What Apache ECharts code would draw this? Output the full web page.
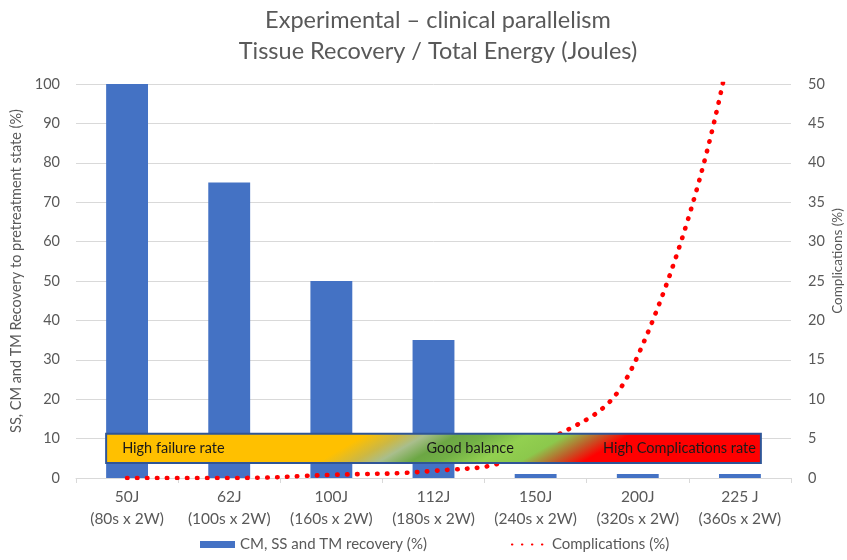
<!DOCTYPE html>
<html><head><meta charset="utf-8">
<script src="https://cdn.jsdelivr.net/npm/echarts@6/dist/echarts.min.js"></script>
<style>html,body{margin:0;padding:0;background:#fff}#c{width:847px;height:560px}</style>
</head><body><div id="c"></div>
<script>
// ---- data ----
const categories = ['50J\n(80s x 2W)', '62J\n(100s x 2W)', '100J\n(160s x 2W)', '112J\n(180s x 2W)', '150J\n(240s x 2W)', '200J\n(320s x 2W)', '225 J\n(360s x 2W)'];
const recovery = [100, 75, 50, 35, 1, 1, 1];
const complications = [0, 0, 0.4, 0.9, 4, 15.5, 62];
const leftAxisTicks = [0, 100, 10];   // min, max, interval
const rightAxisTicks = [0, 50, 5];
const seriesNames = ['CM, SS and TM recovery (%)', 'Complications (%)'];
const bandRange = [3.8, 11.2];        // left-axis values of the zone band
const bandLabels = ['High failure rate', 'Good balance', 'High Complications rate'];

const FONT = 'Lato';
const GREY = '#595959';
const chart = echarts.init(document.getElementById('c'), null, {renderer: 'canvas'});

const option = {
  backgroundColor: '#fff',
  textStyle: {fontFamily: FONT},
  title: {
    text: 'Experimental \u2013 clinical parallelism\nTissue Recovery / Total Energy (Joules)',
    left: 433, top: 0, textAlign: 'center',
    textStyle: {fontFamily: FONT, fontSize: 23.5, fontWeight: 'normal', color: GREY, lineHeight: 31}
  },
  grid: {left: 76, right: 56, top: 84, bottom: 82, containLabel: false, outerBoundsMode: 'none'},
  legend: {
    bottom: 3, left: 195, itemGap: 84, itemWidth: 35, itemHeight: 7,
    textStyle: {fontFamily: FONT, fontSize: 15, color: GREY},
    data: [{name: seriesNames[0], icon: 'rect'}, {name: seriesNames[1], itemStyle: {opacity: 0}}]
  },
  xAxis: {
    type: 'category', data: categories,
    axisLine: {lineStyle: {color: '#D9D9D9'}},
    axisTick: {show: true, length: 5, lineStyle: {color: '#D9D9D9'}},
    axisLabel: {fontFamily: FONT, fontSize: 15.5, color: GREY, lineHeight: 22, margin: 8, interval: 0}
  },
  yAxis: [{
    type: 'value', min: leftAxisTicks[0], max: leftAxisTicks[1], interval: leftAxisTicks[2],
    name: 'SS, CM and TM Recovery to pretreatment state (%)', nameLocation: 'middle', nameGap: 48,
    nameTextStyle: {fontFamily: FONT, fontSize: 14.5, color: GREY, padding: [0, 0, 0, 20]},
    axisLine: {show: false}, axisTick: {show: false},
    axisLabel: {fontFamily: FONT, fontSize: 14.5, color: GREY, margin: 16},
    splitLine: {lineStyle: {color: '#D9D9D9'}}
  }, {
    type: 'value', min: rightAxisTicks[0], max: rightAxisTicks[1], interval: rightAxisTicks[2],
    name: 'Complications (%)', nameLocation: 'middle', nameGap: 40, nameMoveOverlap: false,
    nameTextStyle: {fontFamily: FONT, fontSize: 13.5, color: GREY, padding: [0, 0, 0, 40]},
    axisLine: {show: false}, axisTick: {show: false},
    axisLabel: {fontFamily: FONT, fontSize: 14.5, color: GREY, margin: 17},
    splitLine: {show: false}
  }],
  series: [{
    name: seriesNames[0], type: 'bar', data: recovery, barWidth: '41%',
    itemStyle: {color: '#4472C4'}, z: 2
  }, {
    name: seriesNames[1], type: 'line', yAxisIndex: 1, data: complications,
    smooth: 0.5, symbol: 'none', clip: true, z: 3,
    itemStyle: {color: '#FF0000'},
    lineStyle: {color: '#FF0000', width: 4.6, type: [0.5, 9.5], cap: 'round'}
  }]
};
chart.setOption(option);

function drawBand() {
  const a = chart.convertToPixel({xAxisIndex: 0, yAxisIndex: 0}, [0, bandRange[1]]);
  const b = chart.convertToPixel({xAxisIndex: 0, yAxisIndex: 0}, [categories.length - 1, bandRange[0]]);
  const step = chart.convertToPixel({xAxisIndex: 0}, 1) - chart.convertToPixel({xAxisIndex: 0}, 0);
  const half = step * 0.41 / 2;
  const x0 = a[0] - half, x1 = b[0] + half, y0 = a[1], y1 = b[1];
  const W = x1 - x0, H = y1 - y0;
  const ux = 0.5, uy = 0.866;
  const L = ux * W + uy * H;
  const grad = new echarts.graphic.LinearGradient(x0, y0, x0 + ux * L, y0 + uy * L, [
    {offset: 0, color: '#FFC000'},
    {offset: 0.37, color: '#FFC000'},
    {offset: 0.42, color: '#CDB843'},
    {offset: 0.455, color: '#A9BE8C'},
    {offset: 0.50, color: '#6CA744'},
    {offset: 0.54, color: '#72B046'},
    {offset: 0.60, color: '#92D050'},
    {offset: 0.655, color: '#8CC84C'},
    {offset: 0.705, color: '#C05A28'},
    {offset: 0.745, color: '#FF0000'},
    {offset: 1, color: '#FF0000'}
  ], true);
  const cy = (y0 + y1) / 2;
  const ts = {fontFamily: FONT, fontSize: 14.5, fill: '#1A1A1A', verticalAlign: 'middle'};
  chart.setOption({
    graphic: [
      {type: 'rect', z: 100, shape: {x: x0, y: y0, width: W, height: H},
       style: {fill: grad, stroke: '#2F5597', lineWidth: 2}},
      {type: 'text', z: 101, x: x0 + 16, y: cy, style: Object.assign({text: bandLabels[0], align: 'left'}, ts)},
      {type: 'text', z: 101, x: x0 + 0.556 * W, y: cy, style: Object.assign({text: bandLabels[1], align: 'center'}, ts)},
      {type: 'text', z: 101, x: x1 - 5, y: cy, style: Object.assign({text: bandLabels[2], align: 'right'}, ts)}
    ]
  });
}
drawBand();
</script>
</body></html>
